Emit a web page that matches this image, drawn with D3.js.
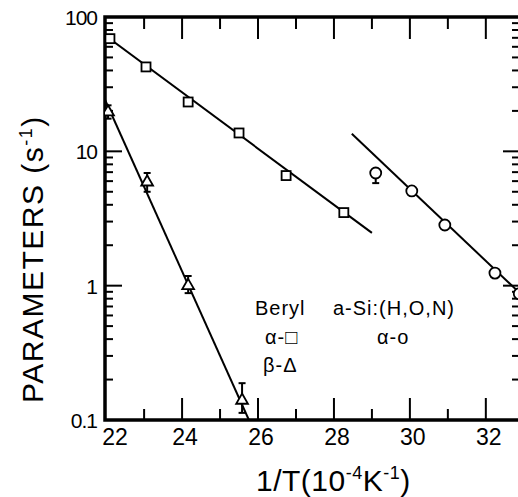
<!DOCTYPE html>
<head>
  <meta charset="utf-8">
  <title>Parameters vs 1/T</title>
  <script src="https://cdn.jsdelivr.net/npm/d3@7"></script>
  <style>
    body { margin: 0; background: white; }
    text { font-family: "Liberation Sans", Arial, sans-serif; fill: black; }
  </style>
</head>
<body>
<script>
// Beryl alpha (squares)
const sqX = [22.1, 23.05, 24.16, 25.5, 26.74, 28.26];
const sqY = [69, 42.5, 23.3, 13.7, 6.6, 3.5];
// Beryl beta (triangles) with error bars
const trX = [22.05, 23.08, 24.16, 25.58];
const trY = [19.6, 5.9, 1.0, 0.14];
const trLo = [17.5, 5.0, 0.88, 0.113];
const trHi = [22, 6.9, 1.18, 0.188];
// a-Si:(H,O,N) alpha (circles)
const ciX = [29.1, 30.05, 30.92, 32.24, 32.88];
const ciY = [6.9, 5.07, 2.83, 1.24, 0.87];
const ciLo = [5.8, null, null, null, null];
// fitted lines (end points)
const sqLine = [[21.97, 73], [29.0, 2.47]];
const trLine = [[21.97, 24.2], [25.76, 0.1]];
const ciLine = [[28.47, 13.5], [32.95, 0.85]];

const xTicks = [22, 24, 26, 28, 30, 32];
const yTicks = [0.1, 1, 10, 100];
const yTickLabels = ["0.1", "1", "10", "100"];

const W = 518, H = 497;
const svg = d3.select("body").append("svg").attr("width", W).attr("height", H);

const x = d3.scaleLinear().domain([21.97, 32.9]).range([105, 520]);
const y = d3.scaleLog().domain([0.1, 100]).range([420, 17]);

const g = svg.append("g");

// clip for data
svg.append("clipPath").attr("id", "clip")
  .append("rect").attr("x", 105).attr("y", 17).attr("width", 415).attr("height", 403);
const plot = svg.append("g").attr("clip-path", "url(#clip)");

// minor / major ticks
const xMinor = d3.range(23, 33, 2);
const yMinor = [];
[0.1, 1, 10].forEach(d => { for (let k = 2; k <= 9; k++) yMinor.push(d * k); });

function tickLines(sel, data, fn) {
  sel.selectAll(null).data(data).enter().append("line")
    .each(function(d) {
      const a = fn(d);
      d3.select(this).attr("x1", a[0]).attr("y1", a[1]).attr("x2", a[2]).attr("y2", a[3]);
    })
    .attr("stroke", "black").attr("stroke-width", 2);
}
// bottom / top
tickLines(g, xTicks.slice(1), d => [x(d), 420, x(d), 398]);
tickLines(g, xMinor, d => [x(d), 420, x(d), 409]);
tickLines(g, xTicks.slice(1), d => [x(d), 17, x(d), 39]);
tickLines(g, xMinor, d => [x(d), 17, x(d), 29]);
// left / right
tickLines(g, [1, 10], d => [105, y(d), 122, y(d)]);
tickLines(g, yMinor, d => [105, y(d), 113, y(d)]);
tickLines(g, [1, 10], d => [520, y(d), 503, y(d)]);
tickLines(g, yMinor, d => [520, y(d), 512, y(d)]);

// frame
g.append("rect").attr("x", 105).attr("y", 17).attr("width", 415).attr("height", 403)
  .attr("fill", "none").attr("stroke", "black").attr("stroke-width", 3.5);

// tick labels
g.selectAll(null).data(xTicks).enter().append("text")
  .attr("x", (d, i) => x(d) + (i === 0 ? 9 : 3)).attr("y", 445)
  .attr("text-anchor", "middle").style("font-size", "23px").text(d => d);
g.selectAll(null).data(yTicks).enter().append("text")
  .attr("x", 97).attr("y", d => y(d) + 8)
  .attr("text-anchor", "end").style("font-size", "21px").style("letter-spacing", "-1px")
  .text((d, i) => yTickLabels[i]);

// axis titles
const yl = g.append("text").attr("transform", "translate(43,403) rotate(-90)")
  .style("font-size", "30px").style("letter-spacing", "1.5px");
yl.append("tspan").text("PARAMETERS (s");
yl.append("tspan").attr("dy", -11).style("font-size", "18px").text("-1");
yl.append("tspan").attr("dy", 11).text(")");

const xl = g.append("text").attr("x", 256).attr("y", 491)
  .style("font-size", "30px").style("letter-spacing", "0.5px");
xl.append("tspan").text("1/T(10");
xl.append("tspan").attr("dy", -12).style("font-size", "18px").text("-4");
xl.append("tspan").attr("dy", 12).text("K");
xl.append("tspan").attr("dy", -12).style("font-size", "18px").text("-1");
xl.append("tspan").attr("dy", 12).text(")");

// fit lines
const line = d3.line().x(d => x(d[0])).y(d => y(d[1]));
[sqLine, trLine, ciLine].forEach(l => {
  plot.append("path").attr("d", line(l)).attr("fill", "none")
    .attr("stroke", "black").attr("stroke-width", 2);
});

// error bars
function errBar(xv, lo, hi) {
  const eg = plot.append("g").attr("stroke", "black").attr("stroke-width", 2);
  eg.append("line").attr("x1", x(xv)).attr("x2", x(xv)).attr("y1", y(lo)).attr("y2", y(hi));
  [lo, hi].forEach(v => eg.append("line").attr("x1", x(xv) - 3.5).attr("x2", x(xv) + 3.5)
    .attr("y1", y(v)).attr("y2", y(v)));
}
trX.forEach((d, i) => errBar(d, trLo[i], trHi[i]));
ciX.forEach((d, i) => { if (ciLo[i] != null) errBar(d, ciLo[i], ciY[i]); });

// markers
plot.selectAll(null).data(sqX).enter().append("rect")
  .attr("x", d => x(d) - 4.5).attr("y", (d, i) => y(sqY[i]) - 4.5)
  .attr("width", 9).attr("height", 9)
  .attr("fill", "white").attr("stroke", "black").attr("stroke-width", 1.8);
const tri = d3.symbol().type(d3.symbolTriangle).size(60);
plot.selectAll(null).data(trX).enter().append("path")
  .attr("d", tri).attr("transform", (d, i) => `translate(${x(d)},${y(trY[i])})`)
  .attr("fill", "white").attr("stroke", "black").attr("stroke-width", 1.8);
plot.selectAll(null).data(ciX).enter().append("circle")
  .attr("cx", d => x(d)).attr("cy", (d, i) => y(ciY[i])).attr("r", 5.5)
  .attr("fill", "white").attr("stroke", "black").attr("stroke-width", 1.8);

// legend
const leg = [
  ["Beryl", 255, 315], ["a-Si:(H,O,N)", 333, 315],
  ["α-□", 265, 344], ["α-o", 377, 344], ["β-Δ", 263, 372]
];
g.selectAll(null).data(leg).enter().append("text")
  .attr("x", d => d[1]).attr("y", d => d[2]).style("font-size", "20px")
  .style("letter-spacing", "1px").text(d => d[0]);
</script>
</body>
